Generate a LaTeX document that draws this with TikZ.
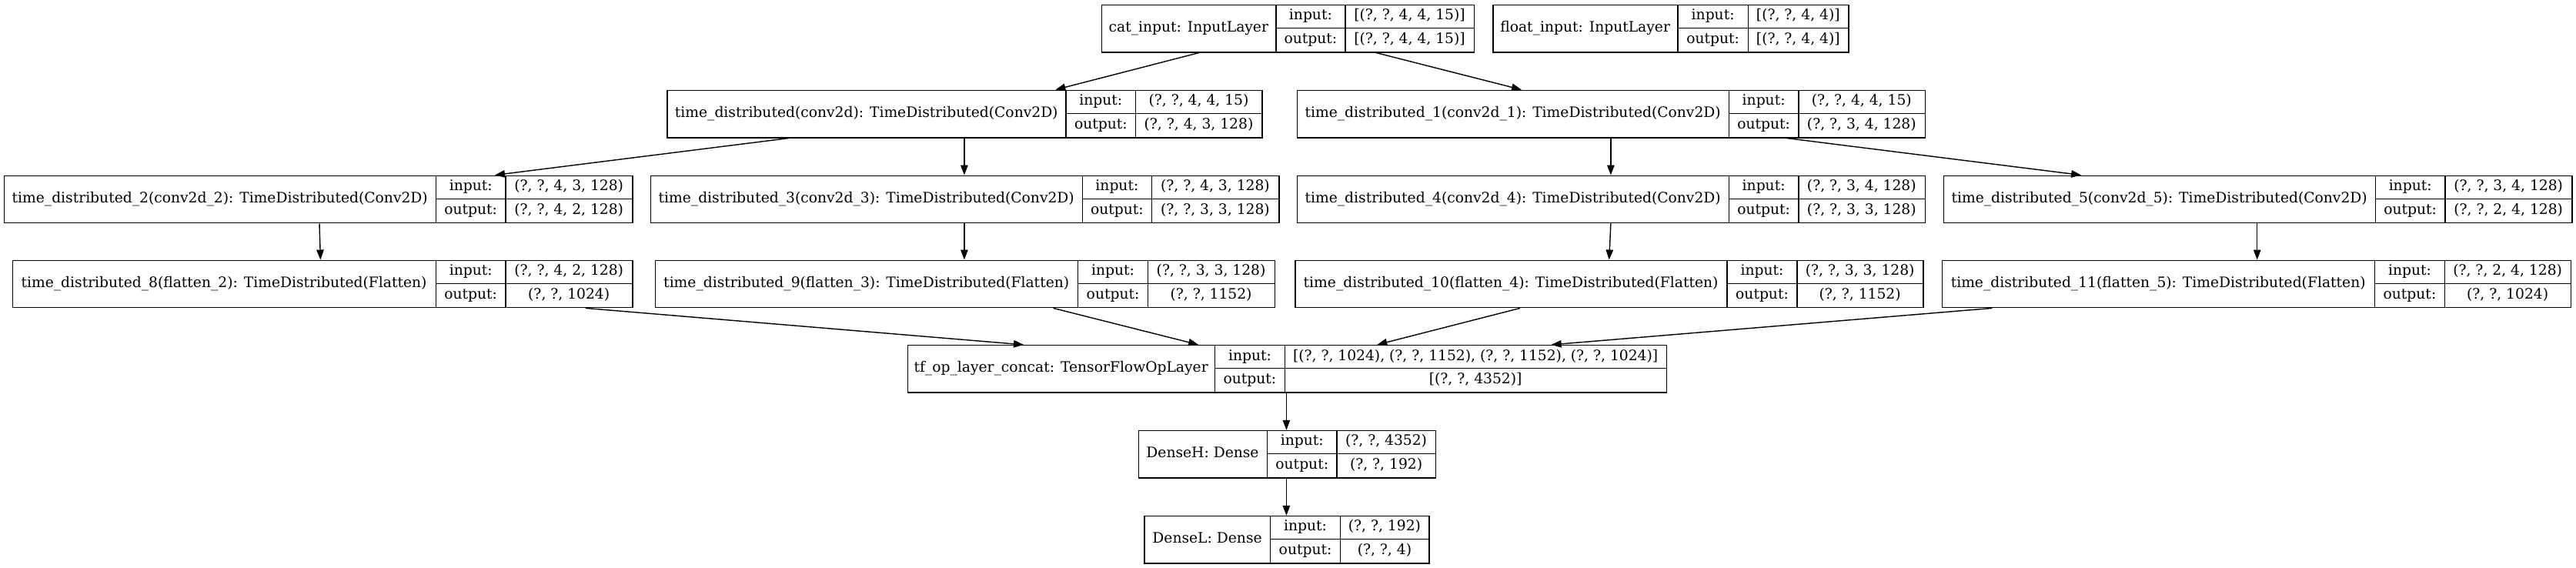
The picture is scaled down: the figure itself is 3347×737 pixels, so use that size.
\documentclass[tikz,border=0pt]{standalone}
\usepackage{fontspec}
\setmainfont{DejaVu Serif}
\usetikzlibrary{arrows.meta}
\tikzset{
  box/.style={draw=black, line width=1.4pt, inner sep=0pt, rectangle, anchor=north west},
  sep/.style={draw=black, line width=1.4pt},
  txt/.style={inner sep=0pt, text height=13.5pt, text depth=4pt, font=\fontsize{18.7}{22}\selectfont},
  edge/.style={draw=black, line width=1.4pt, -{Triangle[length=13pt,width=9.5pt]}}
}
% #1 name, #2 left, #3 div1, #4 div2, #5 right, #6 top, #7 label, #8 input, #9 output
\newcommand{\layerbox}[9]{%
  \pgfmathsetmacro{\lw}{#5-#2}%
  \node[box, minimum width=\lw pt, minimum height=61.5pt] (#1) at (#2,#6) {};
  \draw[sep] (#3,#6) -- (#3,#6+61.5);
  \draw[sep] (#4,#6) -- (#4,#6+61.5);
  \draw[sep] (#3,#6+30.75) -- (#5,#6+30.75);
  \node[txt] (#1-l) at ({(#2+#3)/2},{#6+30.75}) {#7};
  \node[txt] (#1-i) at ({(#3+#4)/2},{#6+15.4}) {input:};
  \node[txt] (#1-o) at ({(#3+#4)/2},{#6+46.1}) {output:};
  \node[txt] (#1-iv) at ({(#4+#5)/2},{#6+15.4}) {#8};
  \node[txt] (#1-ov) at ({(#4+#5)/2},{#6+46.1}) {#9};
}
\begin{document}
\begin{tikzpicture}[x=1pt,y=-1pt]
\useasboundingbox[fill=white] (0,0) rectangle (3347,737);

\layerbox{cat}{1430.7}{1657.9}{1747.9}{1915}{5.6}{cat\_input: InputLayer}{[(?, ?, 4, 4, 15)]}{[(?, ?, 4, 4, 15)]}
\layerbox{flt}{1939.3}{2180}{2271.3}{2401.3}{5.6}{float\_input: InputLayer}{[(?, ?, 4, 4)]}{[(?, ?, 4, 4)]}

\layerbox{td0}{866.4}{1385}{1475.7}{1639.3}{116.6}{time\_distributed(conv2d): TimeDistributed(Conv2D)}{(?, ?, 4, 4, 15)}{(?, ?, 4, 3, 128)}
\layerbox{td1}{1685}{2246.3}{2337}{2500.6}{116.6}{time\_distributed\_1(conv2d\_1): TimeDistributed(Conv2D)}{(?, ?, 4, 4, 15)}{(?, ?, 3, 4, 128)}

\layerbox{td2}{5}{566.4}{657}{821.4}{227.5}{time\_distributed\_2(conv2d\_2): TimeDistributed(Conv2D)}{(?, ?, 4, 3, 128)}{(?, ?, 4, 2, 128)}
\layerbox{td3}{845}{1406.4}{1496.4}{1661.4}{227.5}{time\_distributed\_3(conv2d\_3): TimeDistributed(Conv2D)}{(?, ?, 4, 3, 128)}{(?, ?, 3, 3, 128)}
\layerbox{td4}{1685}{2246.3}{2337}{2500.6}{227.5}{time\_distributed\_4(conv2d\_4): TimeDistributed(Conv2D)}{(?, ?, 3, 4, 128)}{(?, ?, 3, 3, 128)}
\layerbox{td5}{2524.9}{3086.3}{3177}{3341.3}{227.5}{time\_distributed\_5(conv2d\_5): TimeDistributed(Conv2D)}{(?, ?, 3, 4, 128)}{(?, ?, 2, 4, 128)}

\layerbox{td8}{15.7}{566.4}{657}{821.4}{337.5}{time\_distributed\_8(flatten\_2): TimeDistributed(Flatten)}{(?, ?, 4, 2, 128)}{(?, ?, 1024)}
\layerbox{td9}{850.7}{1400.7}{1491.4}{1655.7}{337.5}{time\_distributed\_9(flatten\_3): TimeDistributed(Flatten)}{(?, ?, 3, 3, 128)}{(?, ?, 1152)}
\layerbox{td10}{1682.1}{2244.1}{2334.9}{2498.4}{337.5}{time\_distributed\_10(flatten\_4): TimeDistributed(Flatten)}{(?, ?, 3, 3, 128)}{(?, ?, 1152)}
\layerbox{td11}{2522.7}{3085.6}{3176.3}{3339.9}{337.5}{time\_distributed\_11(flatten\_5): TimeDistributed(Flatten)}{(?, ?, 2, 4, 128)}{(?, ?, 1024)}

\layerbox{cc}{1178.6}{1578.6}{1669.3}{2165}{447.9}{tf\_op\_layer\_concat: TensorFlowOpLayer}{[(?, ?, 1024), (?, ?, 1152), (?, ?, 1152), (?, ?, 1024)]}{[(?, ?, 4352)]}
\layerbox{dh}{1478.6}{1646.4}{1737.1}{1865}{558.8}{DenseH: Dense}{(?, ?, 4352)}{(?, ?, 192)}
\layerbox{dl}{1486.4}{1650.7}{1741.4}{1856.4}{669.8}{DenseL: Dense}{(?, ?, 192)}{(?, ?, 4)}

\draw[edge] (cat.south -| 1557.9,0) -- (td0.north -| 1371.4,0);
\draw[edge] (cat.south -| 1787.9,0) -- (td1.north -| 1977,0);
\draw[edge] (td0.south -| 1025,0) -- (td2.north -| 643,0);
\draw[edge] (td0.south -| 1252.9,0) -- (td3.north -| 1252.9,0);
\draw[edge] (td1.south -| 2092.9,0) -- (td4.north -| 2092.9,0);
\draw[edge] (td1.south -| 2321.3,0) -- (td5.north -| 2704.1,0);
\draw[edge] (td2.south -| 415,0) -- (td8.north -| 416.4,0);
\draw[edge] (td3.south -| 1252.9,0) -- (td9.north -| 1252.9,0);
\draw[edge] (td4.south -| 2092.9,0) -- (td10.north -| 2090.7,0);
\draw[edge] (td5.south -| 2932.7,0) -- (td11.north -| 2932.7,0);
\draw[edge] (td8.south -| 760.7,0) -- (cc.north -| 1330,0);
\draw[edge] (td9.south -| 1368.6,0) -- (cc.north -| 1557.1,0);
\draw[edge] (td10.south -| 1975,0) -- (cc.north -| 1789.3,0);
\draw[edge] (td11.south -| 2588.4,0) -- (cc.north -| 2015.7,0);
\draw[edge] (cc.south -| 1671.4,0) -- (dh.north -| 1671.4,0);
\draw[edge] (dh.south -| 1671.4,0) -- (dl.north -| 1671.4,0);
\end{tikzpicture}
\end{document}
